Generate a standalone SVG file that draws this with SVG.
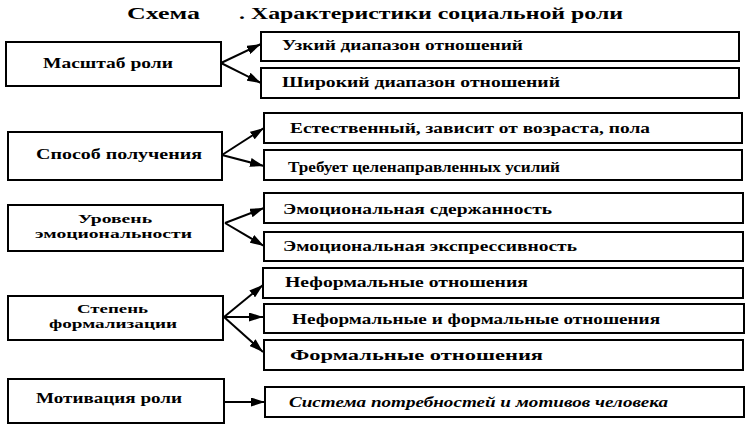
<svg xmlns="http://www.w3.org/2000/svg" width="750" height="436" viewBox="0 0 750 436">
<style>
.box{fill:#fff;stroke:#000;stroke-width:2}
.t{font-family:"Liberation Serif","Times New Roman",serif;font-weight:bold;font-size:15px;fill:#000}
.t2{font-size:13.5px}
.ti{font-style:italic}
.title{font-family:"Liberation Serif","Times New Roman",serif;font-weight:bold;font-size:17px;fill:#000}
.c{stroke:#000;stroke-width:2;fill:none}
</style>
<defs>
<marker id="ah" markerUnits="userSpaceOnUse" markerWidth="14" markerHeight="9" refX="14" refY="4.5" orient="auto">
<path d="M0,0 L14,4.5 L0,9 z" fill="#000"/>
</marker>
</defs>
<rect width="750" height="436" fill="#fff"/>
<g id="title">
<text class="title" x="127" y="19" textLength="73" lengthAdjust="spacingAndGlyphs">Схема</text>
<text class="title" x="239" y="19" textLength="384" lengthAdjust="spacingAndGlyphs">. Характеристики социальной роли</text>
</g>
<g id="connectors">
<path class="c" marker-end="url(#ah)" d="M221,63 L261,44"/>
<path class="c" marker-end="url(#ah)" d="M221,63 L261,83"/>
<path class="c" marker-end="url(#ah)" d="M222,155 L264,128"/>
<path class="c" marker-end="url(#ah)" d="M222,155 L264,166"/>
<path class="c" marker-end="url(#ah)" d="M225,223 L264,208"/>
<path class="c" marker-end="url(#ah)" d="M225,223 L264,246"/>
<path class="c" marker-end="url(#ah)" d="M224,317 L263,285"/>
<path class="c" marker-end="url(#ah)" d="M224,317 L263,317"/>
<path class="c" marker-end="url(#ah)" d="M224,317 L263,352"/>
<path class="c" marker-end="url(#ah)" d="M224,402 L265,402"/>
</g>
<g id="n-masshtab">
<rect class="box" x="6" y="42" width="215" height="44"/>
<text class="t" x="43" y="68" textLength="130" lengthAdjust="spacingAndGlyphs">Масштаб роли</text>
</g>
<g id="n-sposob">
<rect class="box" x="8" y="132" width="214" height="48"/>
<text class="t" x="36" y="159" textLength="166" lengthAdjust="spacingAndGlyphs">Способ получения</text>
</g>
<g id="n-uroven">
<rect class="box" x="8" y="205" width="215" height="46"/>
<text class="t t2" x="78" y="223" textLength="74" lengthAdjust="spacingAndGlyphs">Уровень</text>
<text class="t t2" x="35" y="238" textLength="157" lengthAdjust="spacingAndGlyphs">эмоциональности</text>
</g>
<g id="n-stepen">
<rect class="box" x="8" y="296" width="215" height="44"/>
<text class="t t2" x="77" y="313" textLength="71" lengthAdjust="spacingAndGlyphs">Степень</text>
<text class="t t2" x="49" y="328" textLength="128" lengthAdjust="spacingAndGlyphs">формализации</text>
</g>
<g id="n-motivaciya">
<rect class="box" x="8" y="379" width="216" height="44"/>
<text class="t" x="36" y="403" textLength="146" lengthAdjust="spacingAndGlyphs">Мотивация роли</text>
</g>
<g id="r1">
<rect class="box" x="261" y="32" width="478" height="29"/>
<text class="t" x="282" y="50" textLength="241" lengthAdjust="spacingAndGlyphs">Узкий диапазон отношений</text>
</g>
<g id="r2">
<rect class="box" x="261" y="68" width="478" height="30"/>
<text class="t" x="282" y="87" textLength="278" lengthAdjust="spacingAndGlyphs">Широкий диапазон отношений</text>
</g>
<g id="r3">
<rect class="box" x="264" y="113" width="478" height="30"/>
<text class="t" x="290" y="133" textLength="360" lengthAdjust="spacingAndGlyphs">Естественный, зависит от возраста, пола</text>
</g>
<g id="r4">
<rect class="box" x="264" y="150" width="478" height="30"/>
<text class="t" x="288" y="172" textLength="272" lengthAdjust="spacingAndGlyphs">Требует целенаправленных усилий</text>
</g>
<g id="r5">
<rect class="box" x="264" y="193" width="479" height="30"/>
<text class="t" x="283" y="214" textLength="269" lengthAdjust="spacingAndGlyphs">Эмоциональная сдержанность</text>
</g>
<g id="r6">
<rect class="box" x="264" y="232" width="479" height="29"/>
<text class="t" x="283" y="251" textLength="294" lengthAdjust="spacingAndGlyphs">Эмоциональная экспрессивность</text>
</g>
<g id="r7">
<rect class="box" x="263" y="268" width="480" height="30"/>
<text class="t" x="285" y="287" textLength="243" lengthAdjust="spacingAndGlyphs">Неформальные отношения</text>
</g>
<g id="r8">
<rect class="box" x="264" y="304" width="480" height="29"/>
<text class="t" x="292" y="324" textLength="368" lengthAdjust="spacingAndGlyphs">Неформальные и формальные отношения</text>
</g>
<g id="r9">
<rect class="box" x="264" y="340" width="479" height="30"/>
<text class="t" x="290" y="360" textLength="253" lengthAdjust="spacingAndGlyphs">Формальные отношения</text>
</g>
<g id="r10">
<rect class="box" x="265" y="387" width="479" height="30"/>
<text class="t ti" x="289" y="407" textLength="379" lengthAdjust="spacingAndGlyphs">Система потребностей и мотивов человека</text>
</g>
</svg>
